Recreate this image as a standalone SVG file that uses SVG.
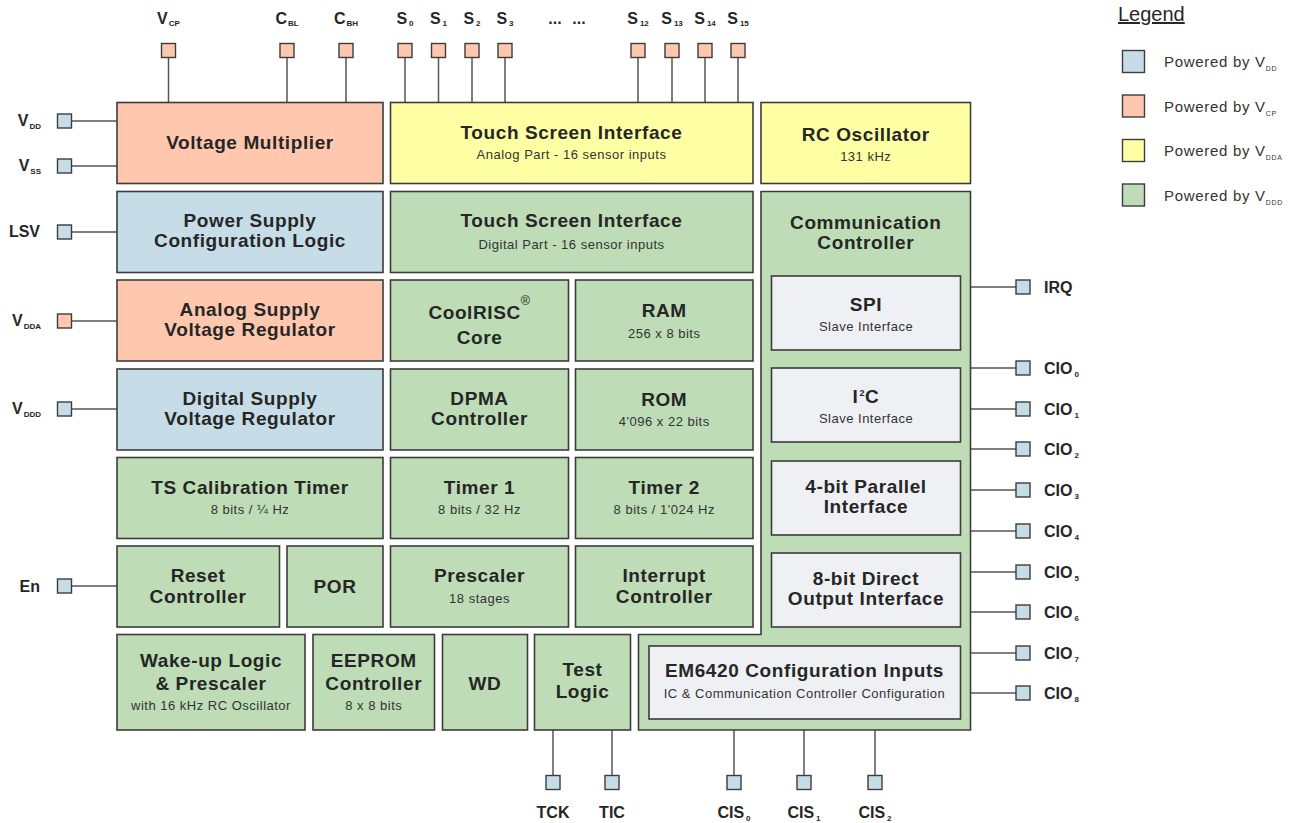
<svg xmlns="http://www.w3.org/2000/svg" width="1297" height="823" viewBox="0 0 1297 823">
<style>
  text { font-family: "Liberation Sans", Arial, sans-serif; fill: #262626; }
  .box { stroke: #3c3c3c; stroke-width: 1.6; }
  .vdd { fill: #c6dde7; }
  .vcp { fill: #ffc7ae; }
  .vdda { fill: #ffffa4; }
  .vddd { fill: #bedcb6; }
  .inner { fill: #eff0f4; }
  .t { font-size: 19px; font-weight: bold; letter-spacing: 0.6px; text-anchor: middle; }
  .s { font-size: 13px; letter-spacing: 0.5px; text-anchor: middle; fill: #333; }
  .p { font-size: 16px; font-weight: bold; }
  .pm { font-size: 16px; font-weight: bold; text-anchor: middle; }
  .pe { font-size: 16px; font-weight: bold; text-anchor: end; }
  .sub { font-size: 8px; }
  .pin { stroke: #3c3c3c; stroke-width: 1.4; }
  .wire { stroke: #555; stroke-width: 1.5; fill: none; }
  .lg { font-size: 15px; letter-spacing: 0.7px; fill: #333; }
</style>

<g id="connectors" class="wire">
  <path d="M168.5 58V102.5M287 58V102.5M346 58V102.5"/>
  <path d="M405 58V102.5M438.5 58V102.5M472 58V102.5M505 58V102.5M638 58V102.5M672 58V102.5M705 58V102.5M738 58V102.5"/>
  <path d="M72 121H117M72 166H117M72 232H117M72 321H117M72 409H117M72 586H117"/>
  <path d="M970.5 287H1016M970.5 368H1016M970.5 409H1016M970.5 449H1016M970.5 490H1016M970.5 531H1016M970.5 572H1016M970.5 612H1016M970.5 653H1016M970.5 693H1016"/>
  <path d="M553 730V775M612 730V775M734 730V775M804 730V775M875 730V775"/>
</g>

<g id="pins">
  <g id="pin-vcp"><rect class="pin vcp" x="161.5" y="43.5" width="14" height="14"/><text class="pm" x="168.5" y="24">V<tspan class="sub" dx="1" dy="2">CP</tspan></text></g>
  <g id="pin-cbl"><rect class="pin vcp" x="280" y="43.5" width="14" height="14"/><text class="pm" x="287" y="24">C<tspan class="sub" dx="1" dy="2">BL</tspan></text></g>
  <g id="pin-cbh"><rect class="pin vcp" x="339" y="43.5" width="14" height="14"/><text class="pm" x="346" y="24">C<tspan class="sub" dx="1" dy="2">BH</tspan></text></g>
  <g id="pin-s0"><rect class="pin vcp" x="398" y="43.5" width="14" height="14"/><text class="pm" x="405" y="24">S<tspan class="sub" dx="2" dy="2">0</tspan></text></g>
  <g id="pin-s1"><rect class="pin vcp" x="431.5" y="43.5" width="14" height="14"/><text class="pm" x="438.5" y="24">S<tspan class="sub" dx="2" dy="2">1</tspan></text></g>
  <g id="pin-s2"><rect class="pin vcp" x="465" y="43.5" width="14" height="14"/><text class="pm" x="472" y="24">S<tspan class="sub" dx="2" dy="2">2</tspan></text></g>
  <g id="pin-s3"><rect class="pin vcp" x="498" y="43.5" width="14" height="14"/><text class="pm" x="505" y="24">S<tspan class="sub" dx="2" dy="2">3</tspan></text></g>
  <text class="pm" x="555" y="24">...</text>
  <text class="pm" x="579" y="24">...</text>
  <g id="pin-s12"><rect class="pin vcp" x="631" y="43.5" width="14" height="14"/><text class="pm" x="638" y="24">S<tspan class="sub" dx="2" dy="2">12</tspan></text></g>
  <g id="pin-s13"><rect class="pin vcp" x="665" y="43.5" width="14" height="14"/><text class="pm" x="672" y="24">S<tspan class="sub" dx="2" dy="2">13</tspan></text></g>
  <g id="pin-s14"><rect class="pin vcp" x="698" y="43.5" width="14" height="14"/><text class="pm" x="705" y="24">S<tspan class="sub" dx="2" dy="2">14</tspan></text></g>
  <g id="pin-s15"><rect class="pin vcp" x="731" y="43.5" width="14" height="14"/><text class="pm" x="738" y="24">S<tspan class="sub" dx="2" dy="2">15</tspan></text></g>

  <g id="pin-vdd"><rect class="pin vdd" x="57.5" y="114" width="14" height="14"/><text class="pe" x="41" y="126">V<tspan class="sub" dx="1" dy="3">DD</tspan></text></g>
  <g id="pin-vss"><rect class="pin vdd" x="57.5" y="159" width="14" height="14"/><text class="pe" x="41" y="171">V<tspan class="sub" dx="1" dy="3">SS</tspan></text></g>
  <g id="pin-lsv"><rect class="pin vdd" x="57.5" y="225" width="14" height="14"/><text class="pe" x="40" y="237">LSV</text></g>
  <g id="pin-vdda"><rect class="pin vcp" x="57.5" y="314" width="14" height="14"/><text class="pe" x="41" y="326">V<tspan class="sub" dx="1" dy="3">DDA</tspan></text></g>
  <g id="pin-vddd"><rect class="pin vdd" x="57.5" y="402" width="14" height="14"/><text class="pe" x="41" y="414">V<tspan class="sub" dx="1" dy="3">DDD</tspan></text></g>
  <g id="pin-en"><rect class="pin vdd" x="57.5" y="579" width="14" height="14"/><text class="pe" x="40" y="592">En</text></g>

  <g id="pin-irq"><rect class="pin vdd" x="1016" y="280" width="14" height="14"/><text class="p" x="1044" y="293">IRQ</text></g>
  <g id="pin-cio0"><rect class="pin vdd" x="1016" y="361" width="14" height="14"/><text class="p" x="1044" y="374">CIO<tspan class="sub" dx="2" dy="3">0</tspan></text></g>
  <g id="pin-cio1"><rect class="pin vdd" x="1016" y="402" width="14" height="14"/><text class="p" x="1044" y="415">CIO<tspan class="sub" dx="2" dy="3">1</tspan></text></g>
  <g id="pin-cio2"><rect class="pin vdd" x="1016" y="442" width="14" height="14"/><text class="p" x="1044" y="455">CIO<tspan class="sub" dx="2" dy="3">2</tspan></text></g>
  <g id="pin-cio3"><rect class="pin vdd" x="1016" y="483" width="14" height="14"/><text class="p" x="1044" y="496">CIO<tspan class="sub" dx="2" dy="3">3</tspan></text></g>
  <g id="pin-cio4"><rect class="pin vdd" x="1016" y="524" width="14" height="14"/><text class="p" x="1044" y="537">CIO<tspan class="sub" dx="2" dy="3">4</tspan></text></g>
  <g id="pin-cio5"><rect class="pin vdd" x="1016" y="565" width="14" height="14"/><text class="p" x="1044" y="578">CIO<tspan class="sub" dx="2" dy="3">5</tspan></text></g>
  <g id="pin-cio6"><rect class="pin vdd" x="1016" y="605" width="14" height="14"/><text class="p" x="1044" y="618">CIO<tspan class="sub" dx="2" dy="3">6</tspan></text></g>
  <g id="pin-cio7"><rect class="pin vdd" x="1016" y="646" width="14" height="14"/><text class="p" x="1044" y="659">CIO<tspan class="sub" dx="2" dy="3">7</tspan></text></g>
  <g id="pin-cio8"><rect class="pin vdd" x="1016" y="686" width="14" height="14"/><text class="p" x="1044" y="699">CIO<tspan class="sub" dx="2" dy="3">8</tspan></text></g>

  <g id="pin-tck"><rect class="pin vdd" x="546" y="775.5" width="14" height="14"/><text class="pm" x="553" y="818">TCK</text></g>
  <g id="pin-tic"><rect class="pin vdd" x="605" y="775.5" width="14" height="14"/><text class="pm" x="612" y="818">TIC</text></g>
  <g id="pin-cis0"><rect class="pin vdd" x="727" y="775.5" width="14" height="14"/><text class="pm" x="734" y="818">CIS<tspan class="sub" dx="2" dy="3">0</tspan></text></g>
  <g id="pin-cis1"><rect class="pin vdd" x="797" y="775.5" width="14" height="14"/><text class="pm" x="804" y="818">CIS<tspan class="sub" dx="2" dy="3">1</tspan></text></g>
  <g id="pin-cis2"><rect class="pin vdd" x="868" y="775.5" width="14" height="14"/><text class="pm" x="875" y="818">CIS<tspan class="sub" dx="2" dy="3">2</tspan></text></g>
</g>

<g id="voltage-multiplier"><rect class="box vcp" x="117" y="102.5" width="266" height="81"/><text class="t" x="250" y="149">Voltage Multiplier</text></g>
<g id="ts-analog"><rect class="box vdda" x="390.5" y="102.5" width="362.5" height="81"/><text class="t" x="571.5" y="139">Touch Screen Interface</text><text class="s" x="571.5" y="159">Analog Part - 16 sensor inputs</text></g>
<g id="rc-oscillator"><rect class="box vdda" x="761" y="102.5" width="209.5" height="81"/><text class="t" x="865.75" y="141">RC Oscillator</text><text class="s" x="865.75" y="161">131 kHz</text></g>

<g id="power-supply-config"><rect class="box vdd" x="117" y="191.5" width="266" height="81"/><text class="t" x="250" y="227">Power Supply</text><text class="t" x="250" y="247">Configuration Logic</text></g>
<g id="ts-digital"><rect class="box vddd" x="390.5" y="191.5" width="362.5" height="81"/><text class="t" x="571.5" y="227">Touch Screen Interface</text><text class="s" x="571.5" y="249">Digital Part - 16 sensor inputs</text></g>

<g id="communication-controller">
  <path class="box vddd" d="M761 191.5H970.5V730H638.5V634.5H761Z"/>
  <text class="t" x="865.75" y="228.5">Communication</text><text class="t" x="865.75" y="248.5">Controller</text>
  <g id="spi"><rect class="box inner" x="771.5" y="276" width="189" height="74"/><text class="t" x="866" y="311">SPI</text><text class="s" x="866" y="331">Slave Interface</text></g>
  <g id="i2c"><rect class="box inner" x="771.5" y="368" width="189" height="74"/><text class="t" x="866" y="403">I<tspan font-size="9" dx="1" dy="-7">2</tspan><tspan dy="7">C</tspan></text><text class="s" x="866" y="423">Slave Interface</text></g>
  <g id="parallel-4bit"><rect class="box inner" x="771.5" y="461" width="189" height="74"/><text class="t" x="866" y="493">4-bit Parallel</text><text class="t" x="866" y="513">Interface</text></g>
  <g id="direct-8bit"><rect class="box inner" x="771.5" y="553" width="189" height="74"/><text class="t" x="866" y="585">8-bit Direct</text><text class="t" x="866" y="605">Output Interface</text></g>
  <g id="em6420-config"><rect class="box inner" x="649" y="646" width="311.5" height="73"/><text class="t" x="804.5" y="677">EM6420 Configuration Inputs</text><text class="s" x="804.5" y="698">IC &amp; Communication Controller Configuration</text></g>
</g>

<g id="analog-supply-regulator"><rect class="box vcp" x="117" y="280" width="266" height="81"/><text class="t" x="250" y="316">Analog Supply</text><text class="t" x="250" y="336">Voltage Regulator</text></g>
<g id="coolrisc-core"><rect class="box vddd" x="390.5" y="280" width="178" height="81"/><text class="t" x="479.5" y="319">CoolRISC<tspan font-size="12.5" font-weight="normal" dy="-14">®</tspan></text><text class="t" x="479.5" y="344">Core</text></g>
<g id="ram"><rect class="box vddd" x="575.5" y="280" width="177.5" height="81"/><text class="t" x="664.25" y="317">RAM</text><text class="s" x="664.25" y="338">256 x 8 bits</text></g>

<g id="digital-supply-regulator"><rect class="box vdd" x="117" y="369" width="266" height="81"/><text class="t" x="250" y="405">Digital Supply</text><text class="t" x="250" y="425">Voltage Regulator</text></g>
<g id="dpma-controller"><rect class="box vddd" x="390.5" y="369" width="178" height="81"/><text class="t" x="479.5" y="405">DPMA</text><text class="t" x="479.5" y="425">Controller</text></g>
<g id="rom"><rect class="box vddd" x="575.5" y="369" width="177.5" height="81"/><text class="t" x="664.25" y="406">ROM</text><text class="s" x="664.25" y="426">4'096 x 22 bits</text></g>

<g id="ts-calibration-timer"><rect class="box vddd" x="117" y="457.5" width="266" height="81"/><text class="t" x="250" y="494">TS Calibration Timer</text><text class="s" x="250" y="514">8 bits / ¼ Hz</text></g>
<g id="timer1"><rect class="box vddd" x="390.5" y="457.5" width="178" height="81"/><text class="t" x="479.5" y="494">Timer 1</text><text class="s" x="479.5" y="514">8 bits / 32 Hz</text></g>
<g id="timer2"><rect class="box vddd" x="575.5" y="457.5" width="177.5" height="81"/><text class="t" x="664.25" y="494">Timer 2</text><text class="s" x="664.25" y="514">8 bits / 1'024 Hz</text></g>

<g id="reset-controller"><rect class="box vddd" x="117" y="546" width="162.5" height="81"/><text class="t" x="198" y="582">Reset</text><text class="t" x="198" y="603">Controller</text></g>
<g id="por"><rect class="box vddd" x="287" y="546" width="96" height="81"/><text class="t" x="335" y="593">POR</text></g>
<g id="prescaler"><rect class="box vddd" x="390.5" y="546" width="178" height="81"/><text class="t" x="479.5" y="582">Prescaler</text><text class="s" x="479.5" y="603">18 stages</text></g>
<g id="interrupt-controller"><rect class="box vddd" x="575.5" y="546" width="177.5" height="81"/><text class="t" x="664.25" y="582">Interrupt</text><text class="t" x="664.25" y="603">Controller</text></g>

<g id="wakeup-logic"><rect class="box vddd" x="117" y="634.5" width="188" height="95.5"/><text class="t" x="211" y="667">Wake-up Logic</text><text class="t" x="211" y="690">&amp; Prescaler</text><text class="s" x="211" y="710">with 16 kHz RC Oscillator</text></g>
<g id="eeprom-controller"><rect class="box vddd" x="313" y="634.5" width="121.5" height="95.5"/><text class="t" x="373.75" y="667">EEPROM</text><text class="t" x="373.75" y="690">Controller</text><text class="s" x="373.75" y="710">8 x 8 bits</text></g>
<g id="wd"><rect class="box vddd" x="442.5" y="634.5" width="85" height="95.5"/><text class="t" x="485" y="690">WD</text></g>
<g id="test-logic"><rect class="box vddd" x="534.5" y="634.5" width="96" height="95.5"/><text class="t" x="582.5" y="676">Test</text><text class="t" x="582.5" y="698">Logic</text></g>

<g id="legend">
  <text x="1118" y="21" font-size="20" fill="#333" text-decoration="underline">Legend</text>
  <rect class="pin vdd" x="1122.5" y="50.5" width="22" height="22"/>
  <text class="lg" x="1164" y="67">Powered by V<tspan font-size="7" dy="4">DD</tspan></text>
  <rect class="pin vcp" x="1122.5" y="95" width="22" height="22"/>
  <text class="lg" x="1164" y="111.5">Powered by V<tspan font-size="7" dy="4">CP</tspan></text>
  <rect class="pin vdda" x="1122.5" y="139.5" width="22" height="22"/>
  <text class="lg" x="1164" y="156">Powered by V<tspan font-size="7" dy="4">DDA</tspan></text>
  <rect class="pin vddd" x="1122.5" y="184" width="22" height="22"/>
  <text class="lg" x="1164" y="200.5">Powered by V<tspan font-size="7" dy="4">DDD</tspan></text>
</g>
</svg>
